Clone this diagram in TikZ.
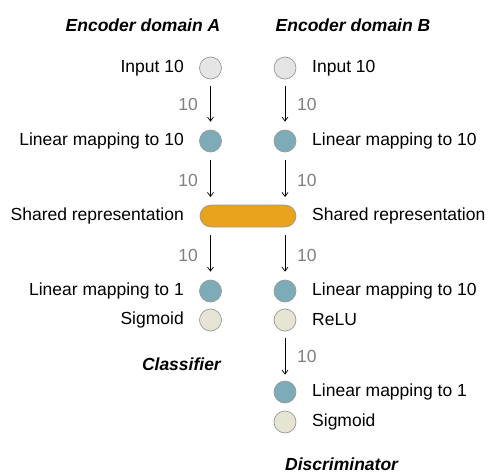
\documentclass[tikz,border=0pt]{standalone}
\usepackage{fontspec}
\setmainfont{Liberation Sans}
\usetikzlibrary{arrows.meta,shapes.misc}
\definecolor{lincol}{HTML}{7DACB8}
\definecolor{actcol}{HTML}{E6E5D3}
\definecolor{shcol}{HTML}{E8A21C}
\definecolor{bordcol}{HTML}{9A9A9A}
\begin{document}
\begin{tikzpicture}[x=1pt,y=-1pt,
  every node/.style={font=\fontsize{17.5}{20}\selectfont, inner sep=0pt},
  unit/.style={circle, draw=bordcol, line width=0.7pt, minimum size=22pt},
  inp/.style={unit, fill=black!10},
  lin/.style={unit, fill=lincol},
  act/.style={unit, fill=actcol},
  num/.style={text=black!50},
  ttl/.style={font=\fontsize{17.5}{20}\selectfont\bfseries\itshape},
  arr/.style={->, >={Straight Barb[length=4pt,width=6pt]}, line width=0.7pt}
]
\useasboundingbox (0,0) rectangle (488,474);
% titles
\node[ttl] (tA) at (143,25) {Encoder domain A};
\node[ttl] (tB) at (353,25) {Encoder domain B};
\node[ttl, anchor=east] (tC) at (221,364) {Classifier};
\node[ttl, anchor=west] (tD) at (285,464.5) {Discriminator};
% left column
\node[inp] (a1) at (210.5,68) {};
\node[lin] (a2) at (210.5,141) {};
\node[lin] (a4) at (210.5,291) {};
\node[act] (a5) at (210.5,320) {};
% right column
\node[inp] (b1) at (285,68) {};
\node[lin] (b2) at (285,141) {};
\node[lin] (b4) at (285,291) {};
\node[act] (b5) at (285,320) {};
\node[lin] (b6) at (285,392) {};
\node[act] (b7) at (285,422) {};
% shared
\node[rounded rectangle, draw=bordcol, line width=0.7pt, fill=shcol, minimum width=96pt, minimum height=22pt] (sh) at (248,216) {};
\coordinate (shA) at (210.5,205);
\coordinate (shAo) at (210.5,227);
\coordinate (shB) at (285,205);
\coordinate (shBo) at (285,227);
% left labels
\node[anchor=east] (la1) at (184,68) {Input 10};
\node[anchor=east] (la2) at (184,141) {Linear mapping to 10};
\node[anchor=east] (lsh) at (184,216) {Shared representation};
\node[anchor=east] (la4) at (184,291) {Linear mapping to 1};
\node[anchor=east] (la5) at (184,320) {Sigmoid};
% right labels
\node[anchor=west] (lb1) at (312,68) {Input 10};
\node[anchor=west] (lb2) at (312,141) {Linear mapping to 10};
\node[anchor=west] (lbsh) at (312,216) {Shared representation};
\node[anchor=west] (lb4) at (312,291) {Linear mapping to 10};
\node[anchor=west] (lb5) at (312,320) {ReLU};
\node[anchor=west] (lb6) at (312,392) {Linear mapping to 1};
\node[anchor=west] (lb7) at (312,422) {Sigmoid};
% arrows
\draw[arr] ([yshift=-7pt]a1.south) -- ([yshift=8pt]a2.north);
\draw[arr] ([yshift=-8pt]a2.south) -- ([yshift=8pt]shA);
\draw[arr] ([yshift=-8pt]shAo) -- ([yshift=8pt]a4.north);
\draw[arr] ([yshift=-7pt]b1.south) -- ([yshift=8pt]b2.north);
\draw[arr] ([yshift=-8pt]b2.south) -- ([yshift=8pt]shB);
\draw[arr] ([yshift=-8pt]shBo) -- ([yshift=8pt]b4.north);
\draw[arr] ([yshift=-7pt]b5.south) -- ([yshift=6pt]b6.north);
% numbers
\node[num, anchor=east] (n1) at (198,104) {10};
\node[num, anchor=east] (n2) at (198,180) {10};
\node[num, anchor=east] (n3) at (198,255) {10};
\node[num, anchor=west] (n4) at (297,104) {10};
\node[num, anchor=west] (n5) at (297,180) {10};
\node[num, anchor=west] (n6) at (297,255) {10};
\node[num, anchor=west] (n7) at (297,356) {10};
\end{tikzpicture}
\end{document}
